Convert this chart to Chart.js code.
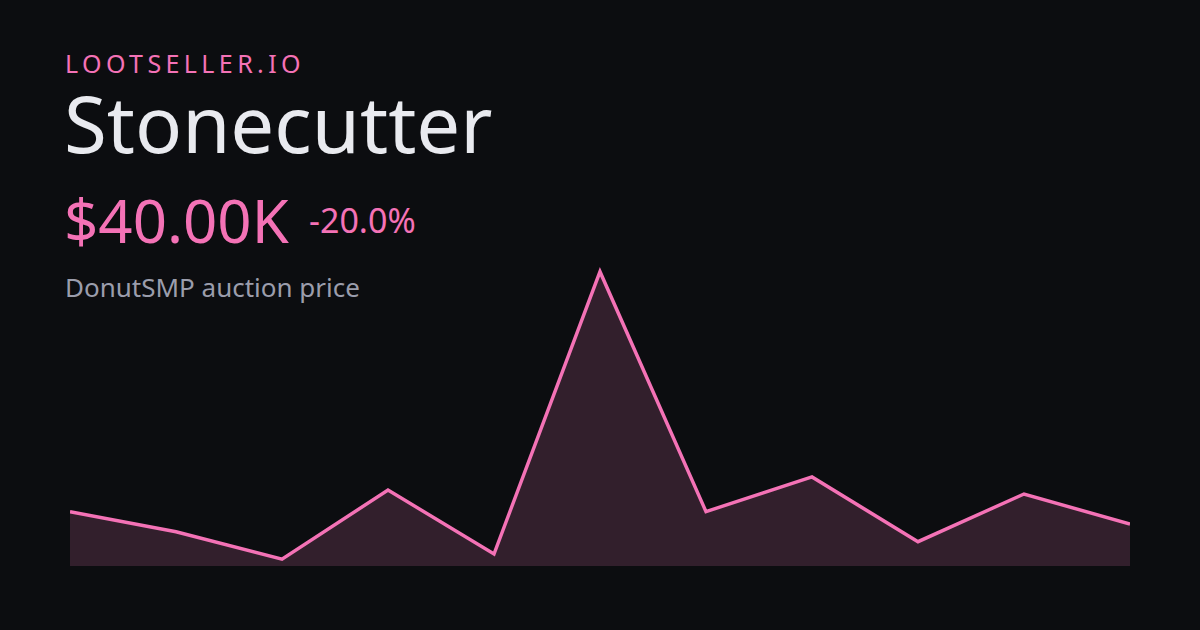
<!DOCTYPE html>
<html>
<head>
<meta charset="utf-8">
<script src="https://cdn.jsdelivr.net/npm/chart.js@4"></script>
<style>
  html, body { margin: 0; padding: 0; }
  body { width: 1200px; height: 630px; background: #0c0d10; position: relative; overflow: hidden; font-family: "Noto Sans", sans-serif; }
  .t { position: absolute; line-height: 1; white-space: nowrap; }
  #brand { left: 65px; top: 51px; font-size: 25px; color: #f472b6; letter-spacing: 4.4px; }
  #title { left: 64px; top: 84px; font-size: 78px; color: #e9eaef; }
  #price { left: 64px; top: 190px; font-size: 60px; color: #f472b6; }
  #change { left: 309px; top: 203px; font-size: 34px; color: #f472b6; }
  #sub { left: 65px; top: 274px; font-size: 26px; color: #9b9dac; }
  #wrap { position: absolute; left: 70px; top: 260px; width: 1060px; height: 306px; }
</style>
</head>
<body>
<div class="t" id="brand">LOOTSELLER.IO</div>
<div class="t" id="title">Stonecutter</div>
<div class="t" id="price">$40.00K</div>
<div class="t" id="change">-20.0%</div>
<div class="t" id="sub">DonutSMP auction price</div>
<div id="wrap"><canvas id="chart"></canvas></div>
<script>
// Price history (oldest -> newest)
const labels = ['1', '2', '3', '4', '5', '6', '7', '8', '9', '10', '11'];
const prices = [44100, 37400, 28300, 51300, 30000, 124100, 44100, 55700, 34100, 50000, 40000];

// Axis range
const yMin = 26000;
const yMax = 128000;

const ctx = document.getElementById('chart').getContext('2d');
new Chart(ctx, {
  type: 'line',
  data: {
    labels: labels,
    datasets: [{
      data: prices,
      borderColor: '#f472b6',
      backgroundColor: '#321f2c',
      borderWidth: 3.5,
      fill: 'start',
      tension: 0,
      pointRadius: 0,
      borderJoinStyle: 'miter'
    }]
  },
  options: {
    responsive: true,
    maintainAspectRatio: false,
    animation: false,
    layout: { padding: 0 },
    plugins: { legend: { display: false }, tooltip: { enabled: false } },
    scales: {
      x: { display: false, offset: false },
      y: { display: false, min: yMin, max: yMax }
    }
  }
});
</script>
</body>
</html>
